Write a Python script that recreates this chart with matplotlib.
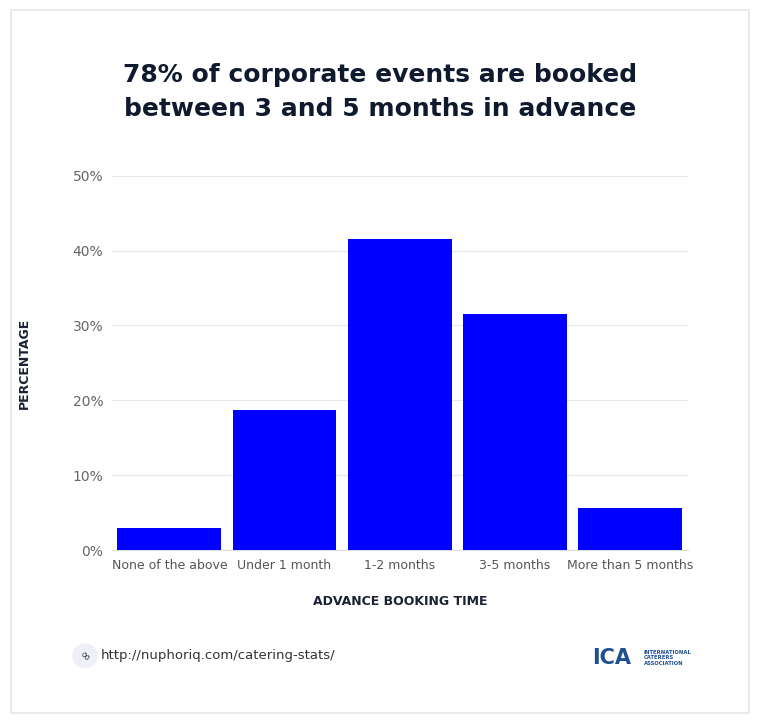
import numpy as np
import matplotlib.pyplot as plt
from matplotlib.patches import FancyBboxPatch, Circle

categories = ["None of the above", "Under 1 month", "1-2 months", "3-5 months", "More than 5 months"]
percent = [2.9, 18.7, 41.5, 31.5, 5.7]

fig = plt.figure(figsize=(7.6, 7.23), dpi=100)
fig.patch.set_facecolor("white")
fig.add_artist(FancyBboxPatch((0.014, 0.014), 0.972, 0.972, boxstyle="square,pad=0",
                              transform=fig.transFigure, fill=False, edgecolor="#e6e6e6", linewidth=1.2))

ax = fig.add_axes([0.147, 0.239, 0.758, 0.518])
x = np.arange(len(categories))
ax.bar(x, percent, width=0.9, color="#0000ff", zorder=3)
ax.set_xlim(-0.5, 4.5)
ax.set_ylim(0, 50)
ax.set_yticks(np.arange(0, 51, 10))
ax.set_yticklabels([f"{v}%" for v in range(0, 51, 10)], color="#666666", fontsize=10)
ax.set_xticks(x)
ax.set_xticklabels(categories, color="#555555", fontsize=9)
ax.grid(axis="y", color="#e8e8e8", linewidth=0.8, zorder=0)
for s in ax.spines.values():
    s.set_visible(False)
ax.spines["bottom"].set_visible(True)
ax.spines["bottom"].set_color("#dddddd")
ax.tick_params(length=0, pad=6)
ax.set_xlabel("ADVANCE BOOKING TIME", fontsize=9, fontweight="bold", color="#1a2233", labelpad=17)
ax.set_ylabel("PERCENTAGE", fontsize=9, fontweight="bold", color="#1a2233", labelpad=30)

fig.text(0.5, 0.873, "78% of corporate events are booked\nbetween 3 and 5 months in advance",
         ha="center", va="center", fontsize=18, fontweight="bold", color="#0f1a2e", linespacing=1.5)

fig.add_artist(Circle((0.112, 0.093), 0.016, transform=fig.transFigure, color="#eef0f5"))
fig.text(0.112, 0.093, "∞", ha="center", va="center", fontsize=9, color="#333333", rotation=-45)
fig.text(0.133, 0.093, "http://nuphoriq.com/catering-stats/", ha="left", va="center", fontsize=9.5, color="#333333")
fig.text(0.805, 0.09, "ICA", ha="center", va="center", fontsize=15, fontweight="bold", color="#1d4f91")
fig.text(0.847, 0.09, "INTERNATIONAL\nCATERERS\nASSOCIATION", ha="left", va="center", fontsize=3.8,
         color="#1d4f91", fontweight="bold", linespacing=1.1)

plt.savefig("out.png", dpi=100)
